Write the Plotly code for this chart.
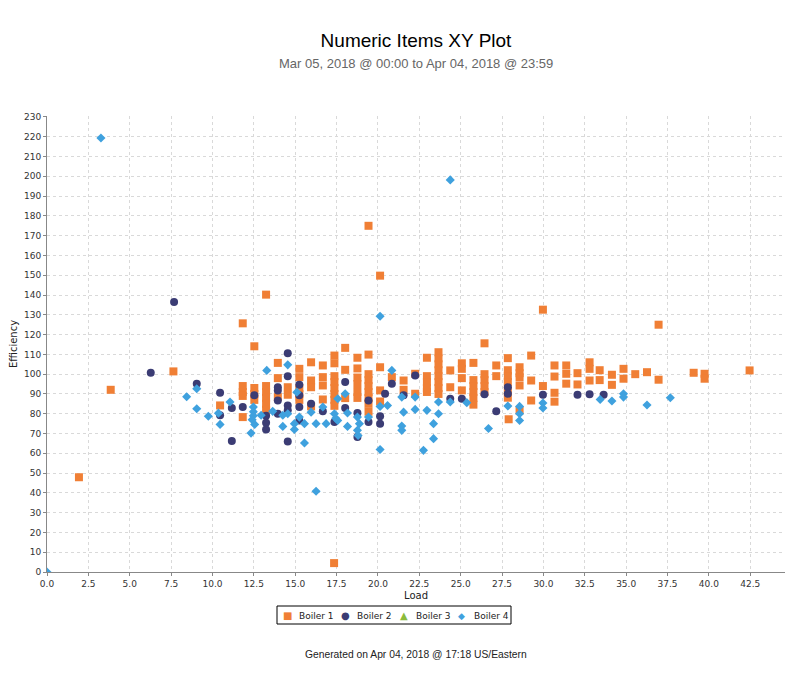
import plotly.graph_objects as go

# Boiler 1 (orange squares)
b1_load = [1.93, 3.85, 7.64, 10.46, 11.83, 11.83, 11.83, 11.83, 11.83, 12.53, 12.53, 12.53, 12.53,
           13.24, 13.24, 13.24, 13.24, 13.24, 13.24, 13.95, 13.95, 13.95, 14.55, 14.55,
           15.25, 15.25, 15.25, 15.25, 15.25, 15.96, 15.96, 15.96, 15.96, 16.67, 16.67, 16.67, 16.67,
           17.37, 17.37, 17.37, 17.37, 17.37, 17.37, 17.37, 17.37, 17.35, 18.02, 18.02, 18.02,
           18.76, 18.76, 18.76, 18.76, 18.76, 18.76, 19.43, 19.43, 19.43, 19.43, 19.43, 19.43, 19.43, 19.43, 19.43,
           20.13, 20.13, 20.13, 20.13, 20.84, 21.55, 21.55, 22.25, 22.25,
           22.96, 22.96, 22.96, 22.96, 22.96, 23.66, 23.66, 23.66, 23.66, 23.66, 23.66, 23.66, 23.66,
           24.37, 24.37, 25.07, 25.07, 25.07, 25.07, 25.77, 25.77, 25.77, 25.77, 25.77, 25.77,
           26.44, 26.44, 26.44, 26.44, 26.44, 27.15, 27.15, 27.85, 27.85, 27.85, 27.85, 27.85, 27.85, 27.9,
           28.56, 28.56, 28.56, 28.56, 28.56, 29.26, 29.26, 29.26, 29.97, 29.97,
           30.67, 30.67, 30.67, 30.67, 31.38, 31.38, 31.38, 32.06, 32.06, 32.79, 32.79, 32.79,
           33.4, 33.4, 34.14, 34.14, 34.84, 34.84, 35.55, 36.26, 36.96, 36.96, 39.08, 39.74, 39.74, 42.46]
b1_eff = [47.9, 92.1, 101.4, 84.2, 125.7, 94, 91, 89, 78.3, 114.1, 93, 90, 87,
          140.2, 94, 91, 88, 85, 82, 105.7, 98, 88.4, 93.4, 89.6,
          102.7, 98.5, 93, 90, 87, 106, 96.8, 93.4, 83.7, 104.4, 98.5, 94.3, 87.2,
          109.4, 105.5, 99, 96, 93, 90, 87, 84, 4.5, 113.3, 102.2, 87.9,
          108.3, 102.9, 98.3, 95, 91, 88, 175, 109.9, 100, 97, 94, 91, 88, 85, 81,
          149.8, 103.5, 91.8, 86.2, 98.5, 96.8, 92.1, 100.2, 90.1,
          108.3, 99, 96, 93, 91, 111.1, 108, 105, 102, 99, 96, 93, 90,
          101.9, 93.4, 105.5, 102.7, 98, 91.8, 105.7, 97, 94, 91, 88, 84.6,
          115.6, 100, 97, 94, 91, 104.4, 99, 108.1, 102, 99, 96, 91.8, 88.1, 77.2,
          103.5, 100.5, 98.5, 94.3, 81.7, 109.4, 96.8, 86.7, 132.6, 94,
          104.4, 98.8, 90.6, 86.1, 104.4, 100.2, 95.2, 100.5, 94.8, 106, 102.7, 96.8,
          102, 97, 99.7, 94.6, 102.7, 97.7, 100, 101, 125, 97.2, 100.7, 100.2, 97.7, 101.9]

# Boiler 2 (navy circles)
b2_load = [6.27, 7.68, 9.05, 10.46, 10.46, 11.17, 11.17, 11.83, 12.53, 13.24, 13.24, 13.24,
           13.95, 13.95, 13.95, 13.95, 14.55, 14.55, 14.55, 14.55, 14.55, 15.25, 15.25, 15.25, 15.25,
           15.96, 16.67, 17.37, 18.02, 18.02, 18.76, 18.76, 19.43, 19.43, 20.13, 20.13, 20.43, 20.84,
           21.55, 22.25, 24.37, 25.07, 26.44, 27.15, 27.85, 27.85, 29.97, 32.06, 32.79, 33.64]
b2_eff = [100.7, 136.5, 95.2, 90.6, 79.2, 82.9, 66.2, 83.4, 89.3, 79, 75.5, 72,
          93.4, 91.8, 86.7, 80, 110.6, 99, 84.2, 81.7, 66, 94.6, 89.3, 83.4, 76.6,
          85, 81.3, 75.8, 96, 82.9, 80.4, 68.2, 86.7, 75.8, 78.7, 75, 90.1, 95.2,
          89.3, 99.3, 87.6, 87.6, 89.8, 81.3, 93.4, 90.1, 89.6, 89.6, 89.8, 89.6]

# Boiler 3 (no readings in range)
b3_load = []
b3_eff = []

# Boiler 4 (blue diamonds)
b4_load = [0, 3.26, 8.44, 9.05, 9.05, 9.75, 10.36, 10.46, 11.06, 12.47, 12.47, 12.47, 12.4, 12.55, 12.33,
           12.94, 13.28, 13.64, 14.25, 14.25, 14.55, 14.55, 14.95, 14.95, 15.1, 15.25, 15.56, 15.56,
           15.96, 16.26, 16.26, 16.67, 16.87, 17.37, 17.57, 17.57, 17.45, 18.02, 18.16, 18.16,
           18.76, 18.88, 18.76, 18.8, 19.43, 20.13, 20.13, 20.13, 20.58, 20.84, 21.44, 21.44, 21.44,
           21.55, 22.25, 22.25, 22.75, 22.96, 23.36, 23.36, 23.66, 23.66, 24.37, 24.37, 25.37,
           26.68, 27.85, 28.56, 28.56, 28.56, 29.97, 29.97, 33.43, 34.14, 34.84, 34.84, 36.26, 37.67]
b4_eff = [0, 219.4, 88.6, 92.6, 82.5, 78.7, 80.3, 74.6, 85.9, 83.4, 81, 79, 77, 74.6, 70.2,
          79.2, 101.9, 81.2, 79.2, 73.6, 104.7, 80, 75, 72, 90.9, 78.3, 75, 65.2,
          80.8, 75, 40.8, 83.4, 75, 80, 87.6, 76.6, 77.7, 90.1, 80.4, 73.6,
          78.3, 75, 71.6, 69, 78.3, 129.3, 83.7, 61.9, 84.2, 101.9, 88.4, 73.8, 71.6,
          80.8, 88.4, 82.2, 61.5, 81.7, 75, 67.4, 85.9, 80, 198.2, 85.9, 85.6,
          72.5, 83.9, 83.7, 80, 76.6, 85.4, 82.9, 87.2, 86.4, 90.1, 88.4, 84.4, 88.1]

series_names = ["Boiler 1", "Boiler 2", "Boiler 3", "Boiler 4"]
x_ticks = [i * 2.5 for i in range(18)]
y_ticks = list(range(0, 240, 10))

colors = ["#f07f35", "#3b3c74", "#8cbb3b", "#3fa1de"]
symbols = ["square", "circle", "triangle-up", "diamond"]
sizes = [8, 8, 9, 7]
glyphs = ["■", "●", "▲", "◆"]
glyph_sizes = [10, 10, 10, 9]

fig = go.Figure()
for name, xs, ys, col, sym, sz in zip(series_names,
                                      [b1_load, b2_load, b3_load, b4_load],
                                      [b1_eff, b2_eff, b3_eff, b4_eff],
                                      colors, symbols, sizes):
    fig.add_trace(go.Scatter(x=xs, y=ys, mode="markers", name=name, showlegend=False,
                             marker=dict(symbol=sym, size=sz, color=col)))

grid = dict(showgrid=True, gridcolor="#d9d9d9", griddash="dot", gridwidth=1,
            showline=True, linecolor="#888888", linewidth=1, ticks="outside",
            ticklen=3, tickcolor="#888888", zeroline=False, automargin=False,
            tickfont=dict(family="DejaVu Sans", size=9, color="#333333"))

# page body has an 8px margin, so the figure is sized/offset to compensate
fig.update_layout(
    width=792, height=665,
    paper_bgcolor="white", plot_bgcolor="white",
    margin=dict(l=39, r=15, t=108, b=101),
    font=dict(family="DejaVu Sans", color="#222222"),
    title=dict(text="Numeric Items XY Plot", x=0.5, xref="paper", xanchor="center",
               y=0.952, yanchor="middle",
               font=dict(family="Liberation Sans", size=19, color="#000000")),
    xaxis=dict(range=[0, 44.6], tickvals=x_ticks, tickformat=".1f",
               title=dict(text="Load", font=dict(size=10), standoff=4), **grid),
    yaxis=dict(range=[0, 230.5], tickvals=y_ticks,
               title=dict(text="Efficiency", font=dict(size=10), standoff=6), **grid),
    showlegend=False,
)

# compact legend box below the plot (plot spans 738 x 456 px)
pw, ph = 738.0, 456.0
leg_top, leg_bot, leg_mid = -34 / ph, -52 / ph, -43.5 / ph
fig.add_shape(type="rect", xref="paper", yref="paper",
              x0=230 / pw, x1=464 / pw, y0=leg_bot, y1=leg_top,
              line=dict(color="#000000", width=1), fillcolor="white")
for i, (name, col, g, gs) in enumerate(zip(series_names, colors, glyphs, glyph_sizes)):
    mx = (240 + i * 58.3) / pw
    fig.add_annotation(text=g, xref="paper", yref="paper", x=mx, y=leg_mid,
                       xanchor="center", yanchor="middle", showarrow=False, borderpad=0,
                       font=dict(family="DejaVu Sans", size=gs, color=col))
    fig.add_annotation(text=name, xref="paper", yref="paper", x=mx + 11 / pw, y=leg_mid,
                       xanchor="left", yanchor="middle", showarrow=False, borderpad=0,
                       font=dict(family="DejaVu Sans", size=9, color="#222222"))

fig.add_annotation(text="Mar 05, 2018 @ 00:00 to Apr 04, 2018 @ 23:59", xref="paper", yref="paper",
                   x=0.5, y=1.116, xanchor="center", yanchor="middle", showarrow=False,
                   font=dict(family="Liberation Sans", size=13, color="#666666"))
fig.add_annotation(text="Generated on Apr 04, 2018 @ 17:18 US/Eastern", xref="paper", yref="paper",
                   x=0.5, y=-0.182, xanchor="center", yanchor="middle", showarrow=False,
                   font=dict(family="Liberation Sans", size=10.3, color="#222222"))

fig.write_html("out.html")
